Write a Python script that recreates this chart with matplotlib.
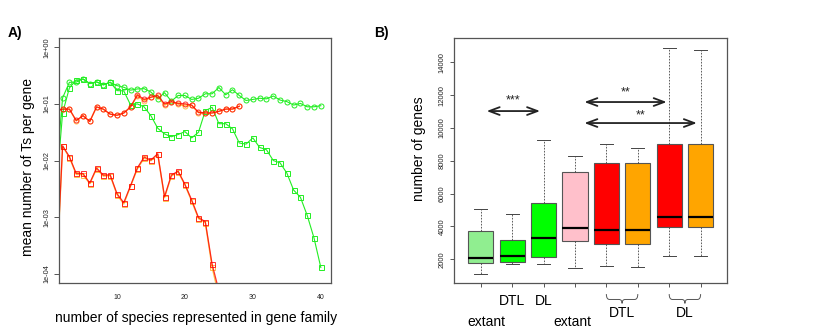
import matplotlib
matplotlib.use("Agg")
import matplotlib.pyplot as plt
import matplotlib.transforms as mtrans
from matplotlib.path import Path
from matplotlib.patches import PathPatch

plt.rcParams['font.family'] = ['Liberation Sans', 'DejaVu Sans']

# ---------------- Panel A data ----------------
species_green_circ = list(range(1, 41))
ts_green_circ = [0.005, 0.128, 0.241, 0.243, 0.277, 0.229, 0.245, 0.219, 0.240, 0.211,
                 0.197, 0.175, 0.184, 0.186, 0.162, 0.123, 0.158, 0.112, 0.141, 0.141,
                 0.120, 0.126, 0.151, 0.151, 0.195, 0.145, 0.178, 0.141, 0.115, 0.120,
                 0.126, 0.123, 0.138, 0.117, 0.110, 0.0955, 0.102, 0.089, 0.089, 0.093]
species_green_sq = list(range(1, 41))
ts_green_sq = [0.0025, 0.069, 0.192, 0.263, 0.275, 0.229, 0.245, 0.216, 0.243, 0.172,
               0.170, 0.0959, 0.100, 0.0885, 0.0617, 0.0372, 0.0295, 0.0263, 0.0288, 0.0324,
               0.0251, 0.0316, 0.0759, 0.0871, 0.0447, 0.0447, 0.0363, 0.0204, 0.0195, 0.0251,
               0.0170, 0.0155, 0.0100, 0.0091, 0.0060, 0.0030, 0.00224, 0.00107, 0.000427, 0.000129]
species_red_circ = list(range(1, 29))
ts_red_circ = [0.075, 0.081, 0.081, 0.051, 0.062, 0.049, 0.089, 0.081, 0.066, 0.063,
               0.069, 0.089, 0.145, 0.120, 0.132, 0.141, 0.100, 0.110, 0.102, 0.100,
               0.0955, 0.0708, 0.0692, 0.0692, 0.0741, 0.0813, 0.0813, 0.0912]
ts_orange_circ = [0.075, 0.081, 0.081, 0.050, 0.062, 0.049, 0.088, 0.080, 0.066, 0.063,
                  0.069, 0.087, 0.140, 0.113, 0.130, 0.139, 0.095, 0.108, 0.099, 0.092,
                  0.094, 0.0700, 0.0690, 0.0690, 0.0735, 0.0805, 0.0805, 0.0905]
species_red_sq = list(range(1, 26))
ts_red_sq = [0.00006, 0.0182, 0.0117, 0.0059, 0.0059, 0.0040, 0.0074, 0.0055, 0.0056, 0.0026,
             0.0018, 0.0036, 0.0074, 0.0115, 0.0102, 0.0132, 0.0023, 0.0055, 0.0065, 0.0038,
             0.0020, 0.00098, 0.00083, 0.000148, 0.00005]
ts_orange_sq = [0.00005, 0.0178, 0.0113, 0.0057, 0.0056, 0.0039, 0.0071, 0.0053, 0.0054, 0.0025,
                0.0017, 0.0035, 0.0071, 0.0110, 0.0099, 0.0128, 0.0022, 0.0053, 0.0063, 0.0037,
                0.0019, 0.00094, 0.00080, 0.000130, 0.00004]
a_xticks = [10, 20, 30, 40]
a_yticks = [1e-4, 1e-3, 1e-2, 1e-1, 1e0]
a_yticklabels = ["1e-04", "1e-03", "1e-02", "1e-01", "1e+00"]

# ---------------- Panel B data ----------------
box_colors = ["#90EE90", "#00FF00", "#00FF00", "#FFC0CB", "#FF0000", "#FFA500", "#FF0000", "#FFA500"]
box_whislo = [1105, 1694, 1734, 1470, 1572, 1552, 2181, 2181]
box_q1 = [1756, 1856, 2120, 3094, 2952, 2952, 3947, 3947]
box_med = [2099, 2221, 3317, 3926, 3784, 3784, 4556, 4576]
box_q3 = [3723, 3157, 5449, 7337, 7885, 7885, 9022, 9022]
box_whishi = [5063, 4740, 9245, 8311, 9042, 8798, 14888, 14726]
b_yticks = [2000, 4000, 6000, 8000, 10000, 12000, 14000]
# significance arrows: (x start, x end, y, label, label y)
sig_x0 = [1.19, 4.30, 4.30]
sig_x1 = [2.89, 6.92, 7.88]
sig_y = [11030, 11580, 10300]
sig_lab = ["***", "**", "**"]
sig_lab_y = [11650, 12180, 10760]

fig = plt.figure(figsize=(8.3, 3.32), dpi=100)
W, H = 830, 332

def ax_rect(l, t, r, b):
    return [l / W, 1 - b / H, (r - l) / W, (b - t) / H]

spine_col = "#555555"

# ---------------- Panel A ----------------
axA = fig.add_axes(ax_rect(59, 38, 331, 283.3))
axA.set_yscale('log')
mk = dict(markersize=3.6, markerfacecolor='none', markeredgewidth=0.7)
axA.plot(species_green_circ, ts_green_circ, color='#22EE22', lw=0.8, marker='o', **mk)
axA.plot(species_green_sq, ts_green_sq, color='#22EE22', lw=0.8, marker='s', **mk)
axA.plot(species_red_circ, ts_orange_circ, color='#FFA500', lw=1.0, marker='o', alpha=0.7, **mk)
axA.plot(species_red_circ, ts_red_circ, color='#FF0000', lw=0.9, marker='o', alpha=0.8, **mk)
axA.plot(species_red_sq, ts_orange_sq, color='#FFA500', lw=1.0, marker='s', alpha=0.7, **mk)
axA.plot(species_red_sq, ts_red_sq, color='#FF0000', lw=0.9, marker='s', alpha=0.8, **mk)
axA.set_xlim(1.47, 41.5)
axA.set_ylim(10 ** -4.17, 10 ** 0.165)
axA.set_xticks(a_xticks)
axA.set_xticklabels([str(v) for v in a_xticks], fontsize=5)
axA.set_yticks(a_yticks)
axA.set_yticklabels(a_yticklabels, fontsize=5.3, rotation=90, va='center')
axA.yaxis.set_minor_locator(matplotlib.ticker.NullLocator())
axA.tick_params(axis='x', length=0, pad=8, colors='#222222')
axA.tick_params(axis='y', length=3.5, width=0.7, pad=2.5, color=spine_col, labelcolor='#222222')
for s in axA.spines.values():
    s.set_color(spine_col)
    s.set_linewidth(0.9)
fig.text(28.3 / W, 1 - 166.7 / H, "mean number of Ts per gene", rotation=90,
         ha='center', va='center', fontsize=10)
fig.text(196 / W, 1 - 318 / H, "number of species represented in gene family",
         ha='center', va='center', fontsize=10)
fig.text(8 / W, 1 - 33 / H, "A)", fontsize=10, fontweight='bold', ha='left', va='center')

# ---------------- Panel B ----------------
axB = fig.add_axes(ax_rect(454.3, 38.3, 726.7, 283.3))
positions = list(range(1, len(box_med) + 1))
stats = []
for i in range(len(box_med)):
    stats.append(dict(med=box_med[i], q1=box_q1[i], q3=box_q3[i],
                      whislo=box_whislo[i], whishi=box_whishi[i], fliers=[]))
bp = axB.bxp(stats, positions=positions, widths=0.8, patch_artist=True, showfliers=False,
             capwidths=0.42,
             boxprops=dict(edgecolor='#555555', linewidth=0.8),
             whiskerprops=dict(color='#444444', linewidth=0.6, linestyle=(0, (2, 1.6))),
             capprops=dict(color='#444444', linewidth=0.7),
             medianprops=dict(color='black', linewidth=1.6))
for patch, c in zip(bp['boxes'], box_colors):
    patch.set_facecolor(c)
axB.set_xlim(0.16, 8.83)
axB.set_ylim(538, 15462)
axB.set_xticks(positions)
axB.set_xticklabels([])
axB.set_yticks(b_yticks)
axB.set_yticklabels([str(v) for v in b_yticks], fontsize=5.5, rotation=90, va='center')
axB.tick_params(axis='both', length=3.2, width=0.7, color=spine_col, labelcolor='#222222')
axB.tick_params(axis='y', pad=3)
for s in axB.spines.values():
    s.set_color(spine_col)
    s.set_linewidth(0.9)

for x0, x1, y, lab, ly in zip(sig_x0, sig_x1, sig_y, sig_lab, sig_lab_y):
    axB.annotate('', xy=(x1, y), xytext=(x0, y),
                 arrowprops=dict(arrowstyle='<->,head_length=0.75,head_width=0.28',
                                 lw=1.3, color='#222222', shrinkA=0, shrinkB=0))
    axB.text((x0 + x1) / 2, ly, lab, ha='center', va='center', fontsize=9, color='#222222')

trB = mtrans.blended_transform_factory(axB.transData, axB.transAxes)
# labels under the ticks
axB.text(2, -0.072, "DTL", transform=trB, ha='center', va='center', fontsize=10)
axB.text(3, -0.072, "DL", transform=trB, ha='center', va='center', fontsize=10)
axB.text(1.17, -0.157, "extant", transform=trB, ha='center', va='center', fontsize=10)
axB.text(3.92, -0.157, "extant", transform=trB, ha='center', va='center', fontsize=10)

def brace(xa, xb):
    xm = (xa + xb) / 2
    d = 0.1
    y0, y1, y2 = -0.044, -0.066, -0.082
    verts = [(xa, y0), (xa, y1), (xa + d, y1), (xm - d, y1), (xm, y1), (xm, y2),
             (xm, y1), (xm + d, y1), (xb - d, y1), (xb, y1), (xb, y0)]
    codes = [Path.MOVETO, Path.CURVE3, Path.CURVE3, Path.LINETO, Path.CURVE3, Path.CURVE3,
             Path.CURVE3, Path.CURVE3, Path.LINETO, Path.CURVE3, Path.CURVE3]
    p = PathPatch(Path(verts, codes), transform=trB, fill=False, lw=0.7,
                  edgecolor='#555555', clip_on=False)
    axB.add_patch(p)
    return xm

for xa, xb, lab in [(5, 6, "DTL"), (7, 8, "DL")]:
    xm = brace(xa, xb)
    axB.text(xm, -0.121, lab, transform=trB, ha='center', va='center', fontsize=10)

fig.text(419 / W, 1 - 149 / H, "number of genes", rotation=90, ha='center', va='center', fontsize=10)
fig.text(374 / W, 1 - 33 / H, "B)", fontsize=10, fontweight='bold', ha='left', va='center')

fig.savefig("out.png", dpi=100)
